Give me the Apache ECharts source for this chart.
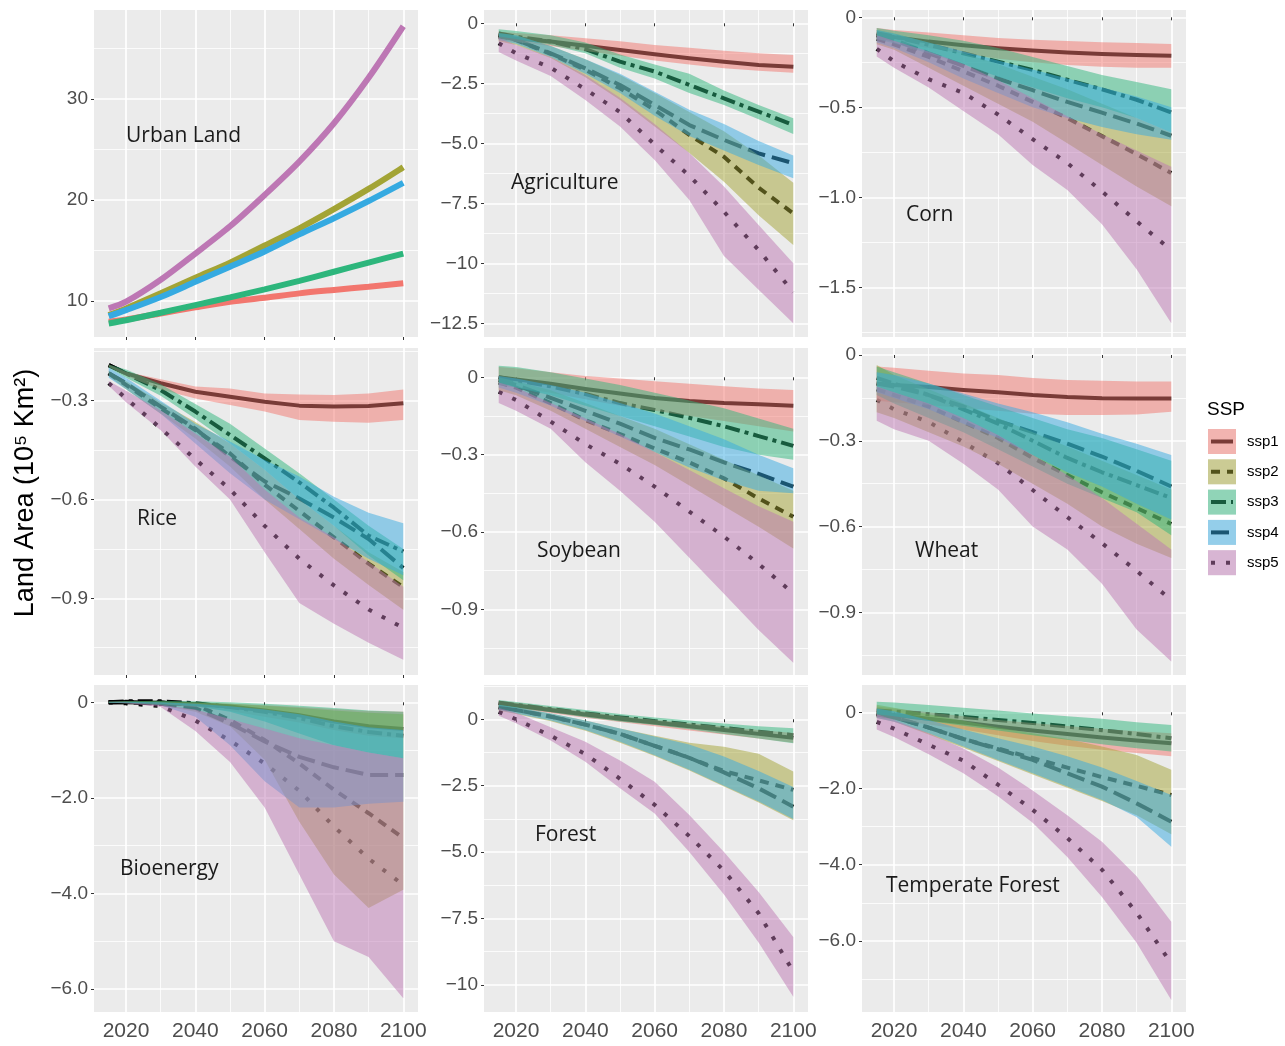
<!DOCTYPE html>
<html><head><meta charset="utf-8">
<script src="https://cdn.jsdelivr.net/npm/echarts/dist/echarts.min.js"></script>
<style>html,body{margin:0;padding:0;background:#fff;}#c{width:1285px;height:1046px;}</style>
</head><body><div id="c"></div>
<script>
// ---------- data ----------
const years = [2015, 2020, 2030, 2040, 2050, 2060, 2070, 2080, 2090, 2100];
const sspNames = ['ssp1', 'ssp2', 'ssp3', 'ssp4', 'ssp5'];
const xTicks = [2020, 2040, 2060, 2080, 2100];
const xMinor = [2030, 2050, 2070, 2090];

// Urban Land (lines only), ssp1..ssp5
const urbanMean = [
  [7.95, 8.18, 8.77, 9.37, 9.93, 10.33, 10.76, 11.1, 11.42, 11.75],
  [8.6, 9.27, 10.76, 12.3, 13.8, 15.5, 17.2, 19.1, 21.1, 23.25],
  [7.78, 8.1, 8.84, 9.6, 10.36, 11.16, 12.0, 12.9, 13.8, 14.7],
  [8.5, 9.1, 10.4, 11.9, 13.4, 14.9, 16.6, 18.2, 19.9, 21.7],
  [9.27, 9.93, 12.1, 14.7, 17.4, 20.5, 23.8, 27.6, 32.1, 37.2]
];
const urbanTicks = [10, 20, 30];
const urbanTickLabels = ['10', '20', '30'];
const urbanMinor = [15, 25, 35];

// Agriculture
const agriMean = [
  [-0.56, -0.63, -0.76, -0.94, -1.11, -1.29, -1.46, -1.6, -1.74, -1.81],
  [-0.5, -0.7, -1.27, -1.94, -2.71, -3.61, -4.65, -5.56, -6.85, -7.92],
  [-0.42, -0.56, -0.76, -1.08, -1.6, -2.01, -2.57, -3.13, -3.68, -4.24],
  [-0.49, -0.69, -1.25, -1.875, -2.57, -3.4, -4.24, -4.86, -5.42, -5.83],
  [-0.83, -1.25, -1.85, -2.75, -3.7, -5.05, -6.35, -7.85, -9.45, -11.2]
];
const agriHi = [
  [-0.35, -0.4, -0.5, -0.62, -0.75, -0.9, -1.02, -1.14, -1.25, -1.32],
  [-0.4, -0.5, -0.95, -1.5, -2.15, -2.9, -3.7, -4.5, -5.5, -6.64],
  [-0.25, -0.32, -0.5, -0.8, -1.3, -1.72, -2.1, -2.8, -3.4, -3.96],
  [-0.4, -0.5, -0.95, -1.5, -2.1, -2.85, -3.6, -4.2, -4.9, -5.51],
  [-0.6, -0.9, -1.4, -2.15, -3.1, -4.2, -5.4, -6.8, -8.4, -10.0]
];
const agriLo = [
  [-0.7, -0.78, -0.95, -1.15, -1.35, -1.55, -1.72, -1.87, -1.98, -2.06],
  [-0.75, -0.9, -1.45, -2.25, -3.2, -4.3, -5.4, -6.6, -8.0, -9.24],
  [-0.55, -0.65, -0.9, -1.25, -1.85, -2.3, -2.9, -3.4, -4.0, -4.61],
  [-0.7, -0.85, -1.4, -2.1, -2.9, -3.85, -4.7, -5.3, -5.9, -6.46],
  [-1.2, -1.55, -2.2, -3.2, -4.3, -5.7, -7.36, -9.7, -11.1, -12.5]
];
const agriTicks = [0, -2.5, -5, -7.5, -10, -12.5];
const agriTickLabels = ['0', '\u22122.5', '\u22125.0', '\u22127.5', '\u221210', '\u221212.5'];
const agriMinor = [-1.25, -3.75, -6.25, -8.75, -11.25];

// Corn
const cornMean = [
  [-0.10, -0.11, -0.135, -0.155, -0.172, -0.185, -0.196, -0.204, -0.209, -0.214],
  [-0.12, -0.15, -0.22, -0.3, -0.38, -0.47, -0.56, -0.66, -0.76, -0.865],
  [-0.089, -0.107, -0.153, -0.2, -0.246, -0.292, -0.347, -0.4, -0.458, -0.529],
  [-0.1, -0.125, -0.2, -0.27, -0.34, -0.405, -0.47, -0.53, -0.59, -0.658],
  [-0.175, -0.245, -0.344, -0.42, -0.54, -0.677, -0.81, -0.967, -1.133, -1.294]
];
const cornHi = [
  [-0.06, -0.07, -0.085, -0.1, -0.115, -0.125, -0.132, -0.138, -0.143, -0.148],
  [-0.07, -0.09, -0.14, -0.2, -0.26, -0.33, -0.4, -0.48, -0.56, -0.64],
  [-0.06, -0.075, -0.1, -0.13, -0.17, -0.22, -0.27, -0.32, -0.36, -0.40],
  [-0.07, -0.09, -0.14, -0.19, -0.24, -0.29, -0.34, -0.39, -0.44, -0.5],
  [-0.1, -0.13, -0.19, -0.26, -0.35, -0.45, -0.55, -0.65, -0.74, -0.83]
];
const cornLo = [
  [-0.12, -0.14, -0.17, -0.2, -0.23, -0.25, -0.265, -0.275, -0.28, -0.28],
  [-0.15, -0.18, -0.28, -0.38, -0.48, -0.58, -0.7, -0.82, -0.94, -1.05],
  [-0.12, -0.145, -0.2, -0.26, -0.33, -0.39, -0.45, -0.5, -0.56, -0.64],
  [-0.14, -0.17, -0.25, -0.34, -0.42, -0.5, -0.56, -0.61, -0.65, -0.68],
  [-0.218, -0.28, -0.39, -0.52, -0.65, -0.82, -0.96, -1.15, -1.4, -1.70]
];
const cornTicks = [0, -0.5, -1.0, -1.5];
const cornTickLabels = ['0', '\u22120.5', '\u22121.0', '\u22121.5'];
const cornMinor = [-0.25, -0.75, -1.25, -1.75];

// Rice
const riceMean = [
  [-0.192, -0.217, -0.247, -0.273, -0.288, -0.303, -0.315, -0.318, -0.316, -0.308],
  [-0.217, -0.252, -0.323, -0.389, -0.46, -0.555, -0.635, -0.715, -0.795, -0.866],
  [-0.192, -0.217, -0.268, -0.333, -0.404, -0.475, -0.548, -0.625, -0.71, -0.758],
  [-0.217, -0.247, -0.318, -0.385, -0.47, -0.545, -0.597, -0.655, -0.72, -0.808],
  [-0.247, -0.293, -0.384, -0.478, -0.569, -0.68, -0.78, -0.861, -0.934, -0.99]
];
const riceHi = [
  [-0.19, -0.212, -0.235, -0.257, -0.263, -0.278, -0.281, -0.283, -0.278, -0.266],
  [-0.21, -0.24, -0.305, -0.365, -0.43, -0.51, -0.6, -0.68, -0.76, -0.82],
  [-0.19, -0.205, -0.25, -0.31, -0.37, -0.445, -0.52, -0.6, -0.68, -0.75],
  [-0.2, -0.23, -0.3, -0.37, -0.424, -0.48, -0.53, -0.592, -0.64, -0.672],
  [-0.24, -0.27, -0.33, -0.4, -0.47, -0.57, -0.655, -0.715, -0.79, -0.865]
];
const riceLo = [
  [-0.197, -0.225, -0.266, -0.293, -0.313, -0.333, -0.359, -0.364, -0.367, -0.359],
  [-0.225, -0.265, -0.34, -0.415, -0.5, -0.6, -0.69, -0.78, -0.86, -0.935],
  [-0.2, -0.23, -0.285, -0.355, -0.43, -0.51, -0.6, -0.68, -0.77, -0.845],
  [-0.23, -0.265, -0.34, -0.43, -0.52, -0.6, -0.66, -0.72, -0.78, -0.83],
  [-0.255, -0.305, -0.39, -0.5, -0.6, -0.76, -0.914, -0.977, -1.035, -1.087]
];
const riceTicks = [-0.3, -0.6, -0.9];
const riceTickLabels = ['\u22120.3', '\u22120.6', '\u22120.9'];
const riceMinor = [-0.15, -0.45, -0.75, -1.05];

// Soybean
const soyMean = [
  [0.0, -0.008, -0.025, -0.045, -0.063, -0.08, -0.092, -0.1, -0.105, -0.11],
  [-0.02, -0.04, -0.1, -0.166, -0.22, -0.276, -0.33, -0.392, -0.47, -0.541],
  [0.0, -0.012, -0.035, -0.065, -0.1, -0.127, -0.157, -0.19, -0.228, -0.266],
  [-0.01, -0.03, -0.08, -0.13, -0.18, -0.235, -0.28, -0.33, -0.375, -0.424],
  [-0.056, -0.088, -0.172, -0.259, -0.336, -0.424, -0.521, -0.618, -0.724, -0.838]
];
const soyHi = [
  [0.04, 0.035, 0.02, 0.005, -0.005, -0.015, -0.025, -0.035, -0.043, -0.049],
  [0.0, -0.015, -0.05, -0.1, -0.15, -0.2, -0.26, -0.32, -0.38, -0.44],
  [0.045, 0.04, 0.02, -0.005, -0.03, -0.06, -0.09, -0.12, -0.16, -0.2],
  [0.005, -0.005, -0.03, -0.06, -0.1, -0.14, -0.19, -0.24, -0.3, -0.353],
  [-0.02, -0.04, -0.1, -0.16, -0.22, -0.29, -0.36, -0.43, -0.5, -0.56]
];
const soyLo = [
  [-0.03, -0.04, -0.06, -0.085, -0.11, -0.13, -0.15, -0.17, -0.19, -0.21],
  [-0.05, -0.07, -0.13, -0.2, -0.27, -0.34, -0.42, -0.5, -0.58, -0.664],
  [-0.03, -0.04, -0.07, -0.11, -0.15, -0.19, -0.23, -0.27, -0.3, -0.32],
  [-0.04, -0.06, -0.11, -0.17, -0.23, -0.29, -0.35, -0.4, -0.44, -0.45],
  [-0.1, -0.13, -0.2, -0.33, -0.44, -0.56, -0.7, -0.84, -0.98, -1.107]
];
const soyTicks = [0, -0.3, -0.6, -0.9];
const soyTickLabels = ['0', '\u22120.3', '\u22120.6', '\u22120.9'];
const soyMinor = [-0.15, -0.45, -0.75, -1.05];

// Wheat
const wheatMean = [
  [-0.1, -0.105, -0.112, -0.122, -0.13, -0.14, -0.147, -0.151, -0.152, -0.152],
  [-0.12, -0.14, -0.18, -0.235, -0.29, -0.36, -0.42, -0.48, -0.535, -0.591],
  [-0.08, -0.1, -0.14, -0.19, -0.24, -0.3, -0.36, -0.41, -0.455, -0.5],
  [-0.1, -0.11, -0.14, -0.18, -0.23, -0.27, -0.31, -0.355, -0.405, -0.46],
  [-0.157, -0.19, -0.234, -0.305, -0.378, -0.472, -0.567, -0.658, -0.755, -0.857]
];
const wheatHi = [
  [-0.04, -0.045, -0.055, -0.065, -0.07, -0.08, -0.087, -0.09, -0.093, -0.093],
  [-0.035, -0.07, -0.12, -0.17, -0.22, -0.27, -0.32, -0.37, -0.42, -0.47],
  [-0.04, -0.06, -0.1, -0.14, -0.18, -0.22, -0.26, -0.29, -0.33, -0.37],
  [-0.06, -0.07, -0.1, -0.135, -0.17, -0.2, -0.235, -0.275, -0.31, -0.35],
  [-0.11, -0.13, -0.17, -0.22, -0.28, -0.35, -0.42, -0.5, -0.59, -0.68]
];
const wheatLo = [
  [-0.16, -0.165, -0.175, -0.185, -0.195, -0.205, -0.21, -0.21, -0.208, -0.198],
  [-0.2, -0.22, -0.27, -0.32, -0.38, -0.45, -0.52, -0.6, -0.66, -0.71],
  [-0.14, -0.17, -0.22, -0.27, -0.33, -0.39, -0.45, -0.5, -0.55, -0.63],
  [-0.13, -0.15, -0.19, -0.24, -0.29, -0.35, -0.41, -0.46, -0.52, -0.575],
  [-0.23, -0.26, -0.3, -0.38, -0.47, -0.6, -0.68, -0.8, -0.96, -1.072]
];
const wheatTicks = [0, -0.3, -0.6, -0.9];
const wheatTickLabels = ['0', '\u22120.3', '\u22120.6', '\u22120.9'];
const wheatMinor = [-0.15, -0.45, -0.75, -1.05];

// Bioenergy
const bioMean = [
  [0, 0, -0.01, -0.04, -0.09, -0.17, -0.27, -0.4, -0.5, -0.56],
  [0, 0.01, 0.0, -0.05, -0.37, -0.79, -1.28, -1.83, -2.32, -2.84],
  [0, 0.02, 0.02, -0.02, -0.1, -0.2, -0.33, -0.5, -0.62, -0.7],
  [0, 0.0, -0.03, -0.12, -0.44, -0.82, -1.14, -1.36, -1.52, -1.52],
  [0, -0.02, -0.08, -0.38, -0.8, -1.28, -1.85, -2.6, -3.27, -3.82]
];
const bioHi = [
  [0.01, 0.01, 0.0, -0.01, -0.03, -0.06, -0.1, -0.14, -0.18, -0.2],
  [0.01, 0.02, 0.02, 0.0, -0.03, -0.07, -0.12, -0.17, -0.22, -0.25],
  [0.01, 0.02, 0.03, 0.02, 0.0, -0.03, -0.07, -0.12, -0.17, -0.2],
  [0.01, 0.01, 0.0, -0.03, -0.08, -0.15, -0.25, -0.4, -0.52, -0.58],
  [0.0, -0.01, -0.05, -0.15, -0.35, -0.55, -0.75, -0.9, -1.05, -1.17]
];
const bioLo = [
  [-0.01, -0.01, -0.04, -0.1, -0.18, -0.3, -0.42, -0.58, -0.7, -0.75],
  [-0.01, -0.02, -0.06, -0.2, -0.5, -1.2, -2.5, -3.6, -4.3, -3.92],
  [-0.01, -0.01, -0.03, -0.08, -0.2, -0.4, -0.65, -0.9, -1.05, -1.17],
  [-0.01, -0.02, -0.06, -0.3, -0.9, -1.65, -2.2, -2.2, -2.12, -2.08],
  [0.0, -0.02, -0.1, -0.6, -1.25, -2.2, -3.6, -5.0, -5.33, -6.19]
];
const bioTicks = [0, -2, -4, -6];
const bioTickLabels = ['0', '\u22122.0', '\u22124.0', '\u22126.0'];
const bioMinor = [-1, -3, -5];

// Forest
const forestMean = [
  [0.6, 0.52, 0.35, 0.18, 0.02, -0.12, -0.26, -0.4, -0.55, -0.7],
  [0.45, 0.35, 0.1, -0.2, -0.55, -1.0, -1.45, -1.95, -2.3, -2.66],
  [0.62, 0.54, 0.38, 0.22, 0.07, -0.07, -0.2, -0.33, -0.47, -0.6],
  [0.45, 0.35, 0.1, -0.2, -0.55, -1.0, -1.45, -2.0, -2.6, -3.29],
  [0.28, 0.0, -0.62, -1.31, -2.24, -3.22, -4.4, -5.7, -7.3, -9.5]
];
const forestHi = [
  [0.7, 0.62, 0.45, 0.28, 0.12, -0.02, -0.14, -0.27, -0.4, -0.52],
  [0.55, 0.45, 0.22, -0.05, -0.35, -0.62, -0.88, -1.03, -1.3, -1.97],
  [0.73, 0.65, 0.5, 0.35, 0.2, 0.07, -0.05, -0.16, -0.26, -0.34],
  [0.55, 0.45, 0.22, -0.05, -0.35, -0.65, -0.95, -1.4, -1.95, -2.55],
  [0.42, 0.25, -0.3, -0.85, -1.55, -2.35, -3.6, -5.0, -6.5, -8.2]
];
const forestLo = [
  [0.5, 0.42, 0.24, 0.06, -0.1, -0.26, -0.42, -0.57, -0.72, -0.88],
  [0.33, 0.2, -0.07, -0.43, -0.88, -1.38, -1.93, -2.53, -3.13, -3.8],
  [0.5, 0.42, 0.26, 0.08, -0.08, -0.22, -0.38, -0.55, -0.72, -0.9],
  [0.35, 0.22, -0.05, -0.4, -0.85, -1.35, -1.9, -2.5, -3.1, -3.75],
  [0.13, -0.15, -0.8, -1.6, -2.6, -3.55, -5.0, -6.6, -8.4, -10.45]
];
const forestTicks = [0, -2.5, -5, -7.5, -10];
const forestTickLabels = ['0', '\u22122.5', '\u22125.0', '\u22127.5', '\u221210'];
const forestMinor = [1.25, -1.25, -3.75, -6.25, -8.75];

// Temperate Forest
const tempMean = [
  [-0.02, -0.07, -0.17, -0.27, -0.38, -0.48, -0.57, -0.66, -0.74, -0.81],
  [-0.05, -0.13, -0.4, -0.7, -0.95, -1.2, -1.45, -1.7, -1.93, -2.17],
  [0.05, 0.02, -0.05, -0.12, -0.2, -0.28, -0.37, -0.47, -0.57, -0.68],
  [-0.05, -0.13, -0.4, -0.7, -0.97, -1.25, -1.6, -1.95, -2.39, -2.87],
  [-0.25, -0.43, -0.85, -1.27, -1.9, -2.56, -3.3, -4.13, -5.26, -6.59]
];
const tempHi = [
  [0.15, 0.1, 0.0, -0.1, -0.2, -0.28, -0.36, -0.43, -0.5, -0.55],
  [0.2, 0.12, -0.05, -0.22, -0.4, -0.55, -0.7, -0.9, -1.12, -1.51],
  [0.28, 0.26, 0.19, 0.12, 0.05, -0.03, -0.1, -0.17, -0.26, -0.33],
  [0.1, 0.03, -0.2, -0.45, -0.68, -0.9, -1.15, -1.45, -1.8, -2.17],
  [-0.05, -0.2, -0.55, -0.95, -1.45, -2.05, -2.7, -3.4, -4.3, -5.5]
];
const tempLo = [
  [-0.15, -0.2, -0.32, -0.45, -0.6, -0.75, -0.88, -0.98, -1.07, -1.15],
  [-0.15, -0.25, -0.58, -0.93, -1.28, -1.63, -1.98, -2.33, -2.7, -3.2],
  [-0.05, -0.1, -0.23, -0.35, -0.48, -0.6, -0.72, -0.84, -0.94, -1.03],
  [-0.15, -0.25, -0.55, -0.9, -1.25, -1.6, -1.95, -2.3, -2.75, -3.53],
  [-0.45, -0.65, -1.1, -1.6, -2.2, -2.9, -3.8, -4.85, -6.05, -7.55]
];
const tempTicks = [0, -2, -4, -6];
const tempTickLabels = ['0', '\u22122.0', '\u22124.0', '\u22126.0'];
const tempMinor = [-1, -3, -5, -7];

// ---------- layout / style ----------
const panels = [
  {title: 'Urban Land', mean: urbanMean, lo: null, hi: null, ymin: 6.44, ymax: 38.81, ticks: urbanTicks, labels: urbanTickLabels, minor: urbanMinor, tx: 126, ty: 136},
  {title: 'Agriculture', mean: agriMean, lo: agriLo, hi: agriHi, ymin: -13.07, ymax: 0.554, ticks: agriTicks, labels: agriTickLabels, minor: agriMinor, tx: 511, ty: 183},
  {title: 'Corn', mean: cornMean, lo: cornLo, hi: cornHi, ymin: -1.776, ymax: 0.0406, ticks: cornTicks, labels: cornTickLabels, minor: cornMinor, tx: 906, ty: 215},
  {title: 'Rice', mean: riceMean, lo: riceLo, hi: riceHi, ymin: -1.133, ymax: -0.14, ticks: riceTicks, labels: riceTickLabels, minor: riceMinor, tx: 137, ty: 519},
  {title: 'Soybean', mean: soyMean, lo: soyLo, hi: soyHi, ymin: -1.155, ymax: 0.1137, ticks: soyTicks, labels: soyTickLabels, minor: soyMinor, tx: 537, ty: 551},
  {title: 'Wheat', mean: wheatMean, lo: wheatLo, hi: wheatHi, ymin: -1.119, ymax: 0.0245, ticks: wheatTicks, labels: wheatTickLabels, minor: wheatMinor, tx: 915, ty: 551},
  {title: 'Bioenergy', mean: bioMean, lo: bioLo, hi: bioHi, ymin: -6.478, ymax: 0.362, ticks: bioTicks, labels: bioTickLabels, minor: bioMinor, tx: 120, ty: 869},
  {title: 'Forest', mean: forestMean, lo: forestLo, hi: forestHi, ymin: -11.02, ymax: 1.29, ticks: forestTicks, labels: forestTickLabels, minor: forestMinor, tx: 535, ty: 835},
  {title: 'Temperate Forest', mean: tempMean, lo: tempLo, hi: tempHi, ymin: -7.866, ymax: 0.717, ticks: tempTicks, labels: tempTickLabels, minor: tempMinor, tx: 886, ty: 886}
];

const colLeft = [94, 484, 862], rowTop = [10, 348, 685], PW = 324, PH = 327;
const sspColor = ['#F2766E', '#A3A435', '#2DB67C', '#35AAE1', '#BD77B4'];
const ribbonAlpha = 0.5;
const LW = 4;
const dashes = ['solid', [9, 7], [15, 5, 4, 5], [18, 7], [4, 11]];
const tickFont = '"Liberation Sans", Arial, Helvetica, sans-serif';

function rgba(hex, a) {
  const n = parseInt(hex.slice(1), 16);
  return 'rgba(' + ((n >> 16) & 255) + ',' + ((n >> 8) & 255) + ',' + (n & 255) + ',' + a + ')';
}

const grids = [], xAxes = [], yAxes = [], series = [], graphics = [];

panels.forEach((p, i) => {
  const r = Math.floor(i / 3), c = i % 3;
  grids.push({left: colLeft[c], top: rowTop[r], width: PW, height: PH, show: true,
    backgroundColor: '#EBEBEB', borderWidth: 0, containLabel: false});
  xAxes.push({type: 'value', gridIndex: i, min: 2010.75, max: 2104.25, position: 'bottom',
    axisLine: {show: false},
    axisTick: {show: true, customValues: xTicks, length: 3, lineStyle: {color: '#333', width: 1}},
    axisLabel: {show: r === 2, customValues: xTicks, fontSize: 21, color: '#4D4D4D', margin: 9,
      fontFamily: tickFont, formatter: v => String(v)},
    splitLine: {show: true, lineStyle: {color: '#FFFFFF', width: 1.7}}});
  xAxes.push({type: 'value', gridIndex: i, min: 2010.75, max: 2104.25, position: 'top',
    axisLine: {show: false}, axisTick: {show: false, customValues: xMinor},
    axisLabel: {show: false, customValues: xMinor},
    splitLine: {show: true, lineStyle: {color: '#FFFFFF', width: 0.8}}});
  const tk = p.ticks, lb = p.labels;
  yAxes.push({type: 'value', gridIndex: i, min: p.ymin, max: p.ymax, position: 'left',
    axisLine: {show: false},
    axisTick: {show: true, customValues: tk, length: 3, lineStyle: {color: '#333', width: 1}},
    axisLabel: {show: true, customValues: tk, fontSize: 19, color: '#4D4D4D', margin: 6,
      fontFamily: tickFont,
      formatter: v => { const k = tk.findIndex(t => Math.abs(t - v) < 1e-9); return k >= 0 ? lb[k] : ''; }},
    splitLine: {show: true, lineStyle: {color: '#FFFFFF', width: 1.7}}});
  yAxes.push({type: 'value', gridIndex: i, min: p.ymin, max: p.ymax, position: 'right',
    axisLine: {show: false}, axisTick: {show: false, customValues: p.minor},
    axisLabel: {show: false, customValues: p.minor},
    splitLine: {show: true, lineStyle: {color: '#FFFFFF', width: 0.8}}});

  const xi = 2 * i, yi = 2 * i;
  const urban = !p.lo;
  p.mean.forEach((vals, s) => {
    series.push({
      type: 'line', name: sspNames[s], xAxisIndex: xi, yAxisIndex: yi,
      data: years.map((y, k) => [y, vals[k]]),
      showSymbol: false, symbol: 'none', silent: true, z: 2,
      smooth: urban ? 0.3 : false,
      lineStyle: urban ? {color: sspColor[s], width: 6, cap: 'butt'}
                       : {color: '#000000', width: LW, type: dashes[s], cap: 'butt', join: 'round'}
    });
  });
  if (!urban) {
    for (let s = 0; s < 5; s++) {
      const lo = p.lo[s], hi = p.hi[s];
      series.push({
        type: 'custom', name: sspNames[s] + ' range', xAxisIndex: xi, yAxisIndex: yi, z: 3, silent: true,
        data: years.map((y, k) => [y, lo[k], hi[k]]),
        encode: {x: 0, y: [1, 2]},
        renderItem: (params, api) => {
          if (params.dataIndex !== 0) return null;
          const top = [], bot = [];
          for (let k = 0; k < years.length; k++) {
            top.push(api.coord([years[k], hi[k]]));
            bot.push(api.coord([years[k], lo[k]]));
          }
          return {type: 'polygon', shape: {points: top.concat(bot.reverse())},
            style: {fill: rgba(sspColor[s], ribbonAlpha), stroke: null}};
        }
      });
    }
  }
  graphics.push({type: 'text', x: p.tx, y: p.ty, silent: true, z: 10,
    style: {text: p.title, font: '21px "Open Sans", "Noto Sans", sans-serif', fill: '#1A1A1A',
      textAlign: 'left', textVerticalAlign: 'middle', align: 'left', verticalAlign: 'middle'}});
});

graphics.push({type: 'text', x: 26, y: 493, rotation: Math.PI / 2, silent: true,
  style: {text: 'Land Area (10\u2075 Km\u00B2)', font: '27px "Liberation Sans", Arial, sans-serif', fill: '#000',
    textAlign: 'center', textVerticalAlign: 'middle', align: 'center', verticalAlign: 'middle'}});

graphics.push({type: 'text', x: 1207, y: 410, silent: true,
  style: {text: 'SSP', font: '19px "Liberation Sans", Arial, sans-serif', fill: '#000',
    textAlign: 'left', textVerticalAlign: 'middle', align: 'left', verticalAlign: 'middle'}});
sspNames.forEach((nm, s) => {
  const ky = 429 + 30.3 * s, kh = 25;
  graphics.push({type: 'rect', silent: true, shape: {x: 1208, y: ky, width: 28, height: kh}, style: {fill: '#F2F2F2'}});
  graphics.push({type: 'line', silent: true, shape: {x1: 1211, y1: ky + kh / 2, x2: 1233, y2: ky + kh / 2},
    style: {stroke: '#000', lineWidth: LW, lineDash: s === 0 ? null : dashes[s], lineCap: 'butt'}});
  graphics.push({type: 'rect', silent: true, shape: {x: 1208, y: ky, width: 28, height: kh},
    style: {fill: rgba(sspColor[s], ribbonAlpha)}});
  graphics.push({type: 'text', x: 1247, y: ky + kh / 2, silent: true,
    style: {text: nm, font: '15px "Liberation Sans", Arial, sans-serif', fill: '#000',
      textAlign: 'left', textVerticalAlign: 'middle', align: 'left', verticalAlign: 'middle'}});
});

const chart = echarts.init(document.getElementById('c'), null, {renderer: 'canvas'});
chart.setOption({
  animation: false,
  backgroundColor: '#FFFFFF',
  grid: grids, xAxis: xAxes, yAxis: yAxes, series: series,
  graphic: {elements: graphics}
});
</script></body></html>
